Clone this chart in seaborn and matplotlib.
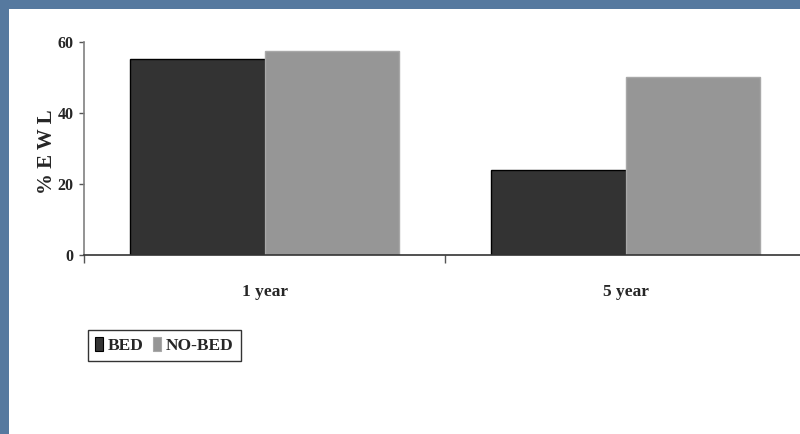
import matplotlib
matplotlib.use("Agg")
import matplotlib.pyplot as plt
from matplotlib.patches import Rectangle, Patch
import seaborn as sns
import pandas as pd

categories = ["1 year", "5 year"]
groups = ["BED", "NO-BED"]
bed_values = [55.3, 24.0]
nobed_values = [57.5, 50.0]
y_ticks = [0, 20, 40, 60]
y_label = "% E W L"

colors = {"BED": "#333333", "NO-BED": "#969696"}
edges = {"BED": "#000000", "NO-BED": "#a8a8a8"}

df = pd.DataFrame({
    "period": categories * 2,
    "group": [groups[0]] * len(categories) + [groups[1]] * len(categories),
    "value": bed_values + nobed_values,
})

sns.set_theme(style="white")
plt.rcParams["font.family"] = ["Liberation Serif", "DejaVu Serif"]
plt.rcParams["font.weight"] = "bold"

W, H = 800, 434
fig = plt.figure(figsize=(W / 100, H / 100), dpi=100)
fig.patch.set_facecolor("#56799f")
fig.add_artist(Rectangle((9 / W, 0), 1 - 9 / W, 1 - 9 / H, transform=fig.transFigure,
                         facecolor="white", edgecolor="none", zorder=0))

ax = fig.add_axes([84 / W, 1 - 255 / H, (806 - 84) / W, 213 / H])
ax.set_facecolor("none")

sns.barplot(data=df, x="period", y="value", hue="group", hue_order=groups,
            order=categories, palette=colors, width=0.745, dodge=True,
            saturation=1, errorbar=None, legend=False, ax=ax)

for i, g in enumerate(groups):
    for p in ax.containers[i]:
        p.set_edgecolor(edges[g])
        p.set_linewidth(1.0)

ax.set_xlim(-0.5, 1.5)
ax.set_ylim(0, 60)
ax.set_yticks(y_ticks)
ax.set_yticklabels([str(t) for t in y_ticks], fontsize=11.5, fontweight="bold")
ax.set_xticks(range(len(categories)))
ax.set_xticklabels(categories, fontsize=12.5, fontweight="bold")
ax.set_xticks([-0.5, 0.5, 1.5], minor=True)
ax.tick_params(axis="x", which="major", length=0, pad=21)
ax.tick_params(axis="x", which="minor", length=5.5, width=1, color="#555555", direction="out", bottom=True)
ax.tick_params(axis="y", which="major", length=3.8, width=1, color="#555555", direction="out", left=True, pad=3.5)

for s in ["top", "right"]:
    ax.spines[s].set_visible(False)
ax.spines["left"].set_color("#808080")
ax.spines["left"].set_linewidth(1.2)
ax.spines["bottom"].set_color("#333333")
ax.spines["bottom"].set_linewidth(1.2)

ax.set_xlabel("")
ax.set_ylabel(y_label, fontsize=15, fontweight="bold")
ax.yaxis.set_label_coords(-0.051, 0.484)
ax.yaxis.label.set_va("center")

handles = [Patch(facecolor=colors[g], edgecolor=edges[g], linewidth=0.8) for g in groups]
leg = fig.legend(handles, groups, loc="upper left", bbox_to_anchor=(88 / W, 1 - 330 / H),
                 bbox_transform=fig.transFigure, ncol=2, frameon=True, fancybox=False,
                 edgecolor="black", borderaxespad=0, borderpad=0.42, handlelength=0.46,
                 handleheight=0.8, handletextpad=0.28, columnspacing=0.5,
                 prop={"family": "Liberation Serif", "weight": "bold", "size": 12.5})
leg.get_frame().set_linewidth(1.0)

fig.savefig("out.png", dpi=100)
